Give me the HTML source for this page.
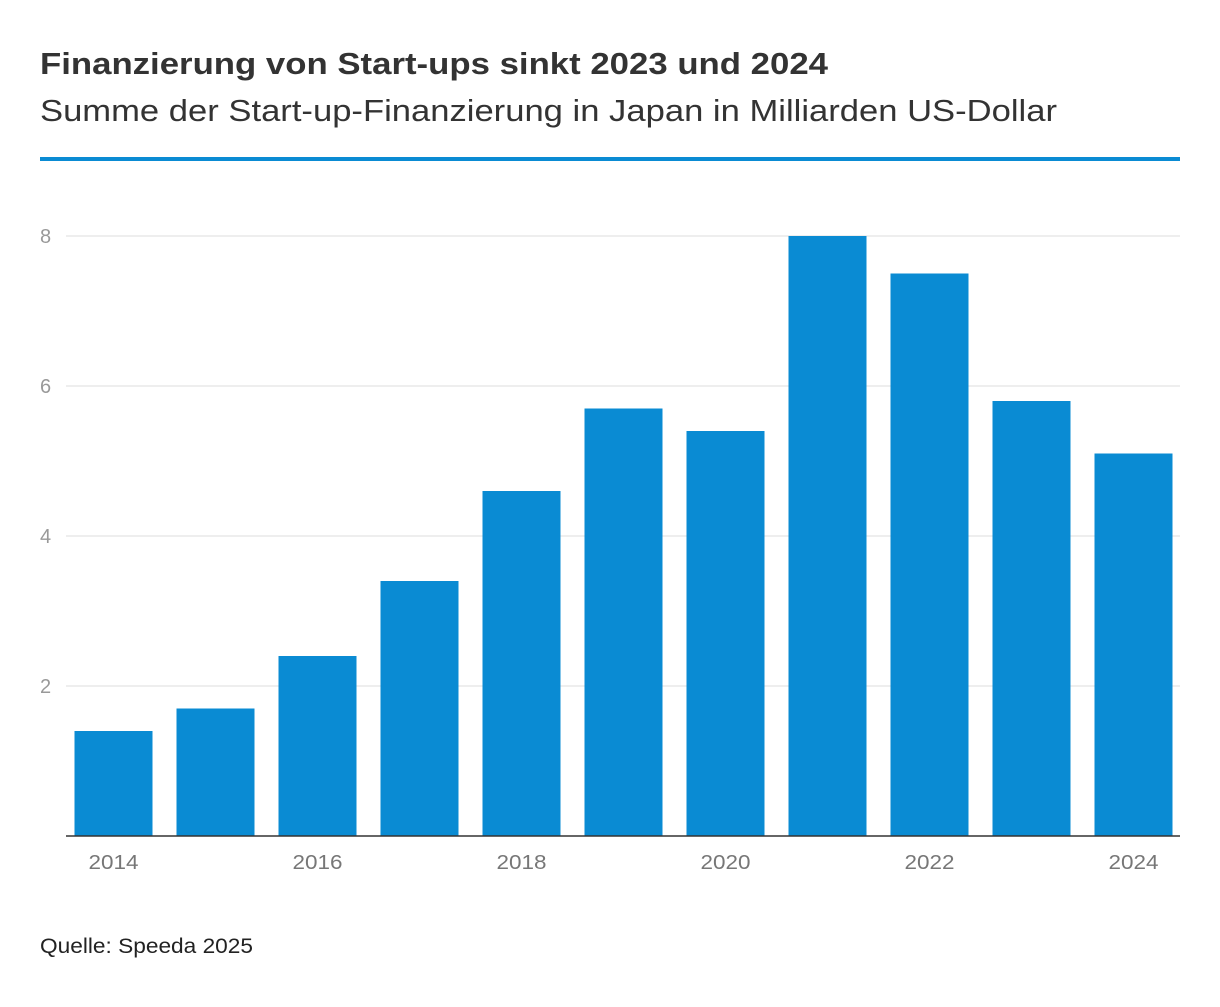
<!DOCTYPE html>
<html><head><meta charset="utf-8"><style>
body{margin:0;background:#fff;width:1220px;height:1002px;overflow:hidden;font-family:"Liberation Sans",sans-serif;}
</style></head><body>
<svg width="1220" height="1002">
<text x="40" y="74" font-size="31" font-weight="bold" fill="#333" textLength="788" lengthAdjust="spacingAndGlyphs">Finanzierung von Start-ups sinkt 2023 und 2024</text>
<text x="40" y="121" font-size="31" fill="#333" textLength="1017" lengthAdjust="spacingAndGlyphs">Summe der Start-up-Finanzierung in Japan in Milliarden US-Dollar</text>
<rect x="40" y="157" width="1140" height="4" fill="#0a8bd3"/>
<g id="grid"></g><g id="bars"></g><g id="xl"></g>
<line x1="66" x2="1180" y1="836" y2="836" stroke="#333" stroke-width="1.5"/>
<text x="40" y="953" font-size="21" fill="#222" textLength="213" lengthAdjust="spacingAndGlyphs">Quelle: Speeda 2025</text>
</svg>
<script>
const years=[2014,2015,2016,2017,2018,2019,2020,2021,2022,2023,2024];
const values=[1.4,1.7,2.4,3.4,4.6,5.7,5.4,8.0,7.5,5.8,5.1];
const yTicks=[2,4,6,8];
const xLabels=["2014","","2016","","2018","","2020","","2022","","2024"];
const NS="http://www.w3.org/2000/svg";
const y0=836,yScale=75,left=62.5,band=102,bw=78;
const yPos=v=>y0-v*yScale;
const xC=i=>left+band*(i+0.5);
function mk(t,a,p){const e=document.createElementNS(NS,t);for(const k in a)e.setAttribute(k,a[k]);p.appendChild(e);return e;}
const g=document.getElementById('grid');
yTicks.forEach(t=>{
 const l=mk('line',{x1:66,x2:1180,y1:yPos(t),y2:yPos(t),stroke:'#ddd','stroke-width':1},g);
 
 
 const tx=mk('text',{x:40,y:yPos(t)+7,'font-size':20,fill:'#999'},g);tx.textContent=t;
 
 
});
const b=document.getElementById('bars'),xl=document.getElementById('xl');
values.forEach((v,i)=>{
 const r=mk('rect',{x:xC(i)-bw/2,y:yPos(v),width:bw,height:v*yScale,fill:'#0a8bd3'},b);
 
 
 if(xLabels[i]){const t=mk('text',{x:xC(i),y:869,'font-size':20,fill:'#777','text-anchor':'middle',textLength:50,lengthAdjust:'spacingAndGlyphs'},xl);t.textContent=xLabels[i];
 
 }
});
</script>
</body></html>
